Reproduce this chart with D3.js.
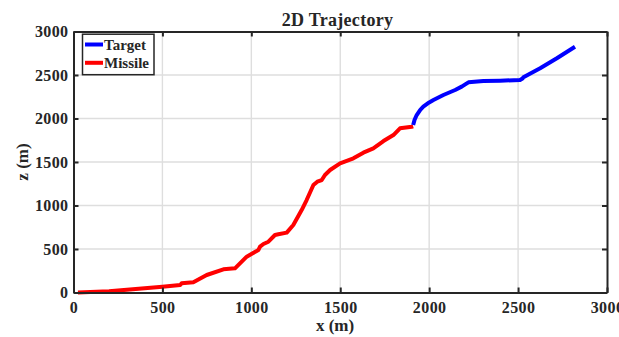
<!DOCTYPE html>
<html>
<head>
<meta charset="utf-8">
<script src="https://cdn.jsdelivr.net/npm/d3@7"></script>
<style>
  html, body { margin: 0; padding: 0; background: #fff; }
  svg { display: block; }
  text { font-family: "Liberation Serif", "Times New Roman", serif; font-weight: bold; fill: #262626; }
</style>
</head>
<body>
<svg id="chart" width="619" height="337"></svg>
<script>
// Missile path (x, z) in metres
const missileX = [25, 200, 350, 500, 600, 608, 674, 749, 843, 908, 974, 1040, 1049, 1068, 1096, 1133, 1152, 1199, 1236, 1283, 1311, 1349, 1371, 1396, 1414, 1443, 1499, 1574, 1630, 1686, 1743, 1799, 1836, 1902, 1910];
const missileZ = [0, 15, 40, 65, 86, 105, 118, 201, 267, 278, 412, 489, 527, 557, 584, 661, 669, 688, 776, 948, 1063, 1236, 1274, 1293, 1351, 1408, 1485, 1542, 1607, 1657, 1741, 1810, 1887, 1905, 1910];

// Target path (x, z) in metres
const targetX = [1910, 1918, 1930, 1950, 1967, 2000, 2024, 2080, 2146, 2183, 2205, 2221, 2305, 2399, 2511, 2525, 2530, 2624, 2718, 2820];
const targetZ = [1925, 1985, 2040, 2100, 2136, 2185, 2213, 2270, 2328, 2366, 2395, 2416, 2431, 2435, 2443, 2460, 2473, 2577, 2692, 2825];

const xTicks = [0, 500, 1000, 1500, 2000, 2500, 3000];
const zTicks = [0, 500, 1000, 1500, 2000, 2500, 3000];

const seriesNames = ["Target", "Missile"];
const seriesColors = ["#0000ff", "#ff0000"];

const serif = "'Liberation Serif', 'Times New Roman', serif";
const margin = { left: 73.5, right: 12, top: 31.5, bottom: 44.5 };
const W = 619, H = 337;
const svg = d3.select("#chart");

const x = d3.scaleLinear().domain([0, 3000]).range([margin.left, W - margin.right]);
const y = d3.scaleLinear().domain([0, 3000]).range([H - margin.bottom, margin.top]);

// grid
const grid = svg.append("g").attr("stroke", "#dedede").attr("stroke-width", 1.4);
grid.selectAll(".gx").data(xTicks.slice(1, -1)).join("line")
  .attr("x1", d => x(d)).attr("x2", d => x(d))
  .attr("y1", y(0)).attr("y2", y(3000));
grid.selectAll(".gy").data(zTicks.slice(1, -1)).join("line")
  .attr("y1", d => y(d)).attr("y2", d => y(d))
  .attr("x1", x(0)).attr("x2", x(3000));

// trajectories
const line = d3.line().x(d => x(d[0])).y(d => y(d[1]));
const missile = d3.zip(missileX, missileZ);
const target = d3.zip(targetX, targetZ);

svg.append("path").datum(missile).attr("d", line)
  .attr("fill", "none").attr("stroke", seriesColors[1]).attr("stroke-width", 4)
  .attr("stroke-linejoin", "round");
svg.append("path").datum(target).attr("d", line)
  .attr("fill", "none").attr("stroke", seriesColors[0]).attr("stroke-width", 4)
  .attr("stroke-linejoin", "round");

// axes with inward ticks, boxed
const axisColor = "#262626";
const tickLen = 5;
const fmt = d3.format("d");
const axBottom = svg.append("g").attr("transform", `translate(0,${y(0)})`)
  .call(d3.axisBottom(x).tickValues(xTicks).tickFormat(fmt).tickSizeInner(-tickLen).tickSizeOuter(0).tickPadding(9));
const axLeft = svg.append("g").attr("transform", `translate(${x(0)},0)`)
  .call(d3.axisLeft(y).tickValues(zTicks).tickFormat(fmt).tickSizeInner(-tickLen).tickSizeOuter(0).tickPadding(5));
const axTop = svg.append("g").attr("transform", `translate(0,${y(3000)})`)
  .call(d3.axisTop(x).tickValues(xTicks).tickSizeInner(-tickLen).tickSizeOuter(0).tickFormat(""));
const axRight = svg.append("g").attr("transform", `translate(${x(3000)},0)`)
  .call(d3.axisRight(y).tickValues(zTicks).tickSizeInner(-tickLen).tickSizeOuter(0).tickFormat(""));

[axBottom, axLeft, axTop, axRight].forEach(g => {
  g.attr("font-family", serif).attr("font-size", 16);
  g.select(".domain").attr("stroke", axisColor).attr("stroke-width", 2);
  g.selectAll(".tick line").attr("stroke", axisColor).attr("stroke-width", 2);
  g.selectAll(".tick text").attr("fill", axisColor)
    .style("font-family", serif).style("font-weight", "bold").style("font-size", "16px")
    .style("letter-spacing", "0.4px");
});

// titles
svg.append("text").attr("x", 337.5).attr("y", 25.5).attr("text-anchor", "middle")
  .attr("font-size", 18).style("letter-spacing", "0.3px").text("2D Trajectory");
svg.append("text").attr("x", 335).attr("y", 331).attr("text-anchor", "middle")
  .attr("font-size", 17).text("x (m)");
svg.append("text").attr("transform", `translate(28,${(y(0) + y(3000)) / 2}) rotate(-90)`)
  .attr("text-anchor", "middle").attr("font-size", 17).text("z (m)");

// legend
const lg = svg.append("g");
lg.append("rect").attr("x", 82.5).attr("y", 34.2).attr("width", 71.5).attr("height", 40.5)
  .attr("fill", "#fff").attr("stroke", axisColor).attr("stroke-width", 1.5);
seriesNames.forEach((name, i) => {
  const cy = 44.5 + i * 18.3;
  lg.append("line").attr("x1", 85).attr("x2", 103).attr("y1", cy).attr("y2", cy)
    .attr("stroke", seriesColors[i]).attr("stroke-width", 4);
  lg.append("text").attr("x", 104).attr("y", cy + 5.5).attr("font-size", 15).text(name);
});
</script>
</body>
</html>
